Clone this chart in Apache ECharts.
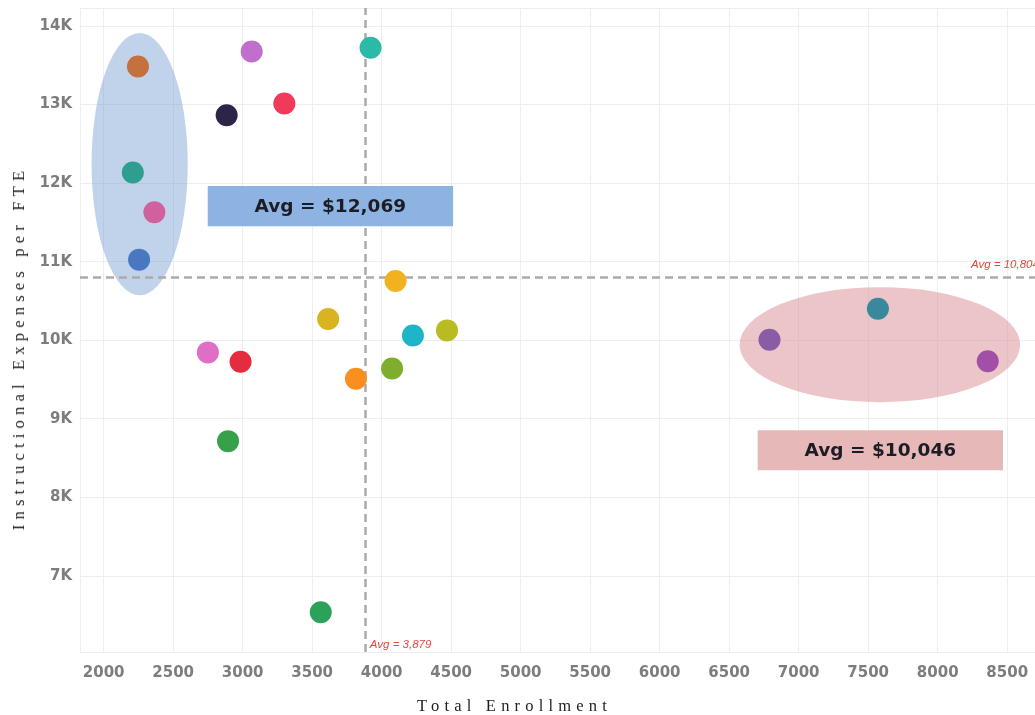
<!DOCTYPE html>
<html>
<head>
<meta charset="utf-8">
<script src="https://cdn.jsdelivr.net/npm/echarts@6/dist/echarts.min.js"></script>
<style>
  html, body { margin: 0; padding: 0; background: #fff; }
  #wrap { position: relative; width: 1035px; height: 715px; overflow: hidden; }
  #chart { position: absolute; left: 0; top: 0; width: 1035px; height: 715px; }
  .axis-title {
    position: absolute; white-space: nowrap; color: #1e1e1e;
    font-family: 'Liberation Serif', 'DejaVu Serif', serif; font-size: 16.5px; letter-spacing: 5.2px;
  }
  #xTitle { left: 0; width: 1029px; top: 696px; text-align: center; }
  #yTitle { left: 19px; top: 348px; transform: translate(-50%, -50%) rotate(-90deg); }
</style>
</head>
<body>
<div id="wrap">
  <div id="chart"></div>
  <div class="axis-title" id="xTitle">Total Enrollment</div>
  <div class="axis-title" id="yTitle">Instructional Expenses per FTE</div>
</div>
<script>
// One point per institution: total enrollment vs instructional expenses per FTE
const enrollment = [2247, 2210, 2365, 2255, 3065, 3920, 3300, 2885, 4100, 3615, 4225,
                    4470, 2750, 2985, 3815, 4075, 2895, 3562, 6790, 7570, 8360];
const expense    = [13485, 12135, 11630, 11026, 13675, 13725, 13015, 12865, 10755, 10270, 10060,
                    10125, 9845, 9725, 9510, 9640, 8715, 6535, 10005, 10400, 9733];
const pointColors = ['#C4703F', '#2E9E8E', '#D0609E', '#4A78C0', '#C070CC', '#2BBAA8', '#F03A5A',
                     '#2E2448', '#F2B11E', '#D9B420', '#20B4C8', '#B8BC22', '#DF6FC6', '#E52B3E',
                     '#F7901E', '#7EAE2E', '#37A04A', '#2BA25A', '#8A5CA6', '#3A889E', '#A24FA8'];

// Highlighted clusters (indices into the arrays above)
const smallHighSpend = [0, 1, 2, 3];
const largeSchools = [18, 19, 20];

// Axis extents
const xMin = 1830, xMax = 8700;
const yMin = 6030, yMax = 14230;

const mean = arr => arr.reduce((a, b) => a + b, 0) / arr.length;
const fmt = v => Math.round(v).toLocaleString('en-US');

const avgEnrollment = mean(enrollment);
const avgExpense = mean(expense);

// Shaded ellipses around the clusters and their average boxes (data units)
const highlightRegions = [
  { cx: 2259, cy: 12242, rx: 346, ry: 1669, fill: 'rgba(100,145,205,0.40)' },
  { cx: 7584, cy: 9943, rx: 1009, ry: 732, fill: 'rgba(215,140,145,0.50)' }
];
const avgBoxes = [
  { x0: 2749, x1: 4514, y0: 11452, y1: 11962, fill: '#8DB3E2',
    text: 'Avg = $' + fmt(mean(smallHighSpend.map(i => expense[i]))) },
  { x0: 6705, x1: 8470, y0: 8344, y1: 8854, fill: '#E6B8B7',
    text: 'Avg = $' + fmt(mean(largeSchools.map(i => expense[i]))) }
];

const chart = echarts.init(document.getElementById('chart'), null, { renderer: 'canvas' });

const labelColor = '#7d7d7d';
const tickFont = { color: labelColor, fontFamily: 'DejaVu Sans', fontWeight: 'bold', fontSize: 15 };

chart.setOption({
  backgroundColor: '#ffffff',
  animation: false,
  grid: { left: 80, right: 0, top: 8, bottom: 63, containLabel: false },
  xAxis: {
    type: 'value', min: xMin, max: xMax, splitNumber: 14,
    axisLine: { show: true, lineStyle: { color: '#eeeeee' } },
    axisTick: { show: false },
    splitLine: { lineStyle: { color: '#eeeeee', width: 1 } },
    axisLabel: Object.assign({
      margin: 14, showMinLabel: false, showMaxLabel: false,
      formatter: v => (v % 500 === 0 ? String(v) : '')
    }, tickFont)
  },
  yAxis: {
    type: 'value', min: yMin, max: yMax, splitNumber: 8,
    axisLine: { show: true, lineStyle: { color: '#eeeeee' } },
    axisTick: { show: false },
    splitLine: { lineStyle: { color: '#eeeeee', width: 1 } },
    axisLabel: Object.assign({
      margin: 8, showMinLabel: false, showMaxLabel: false,
      formatter: v => (v % 1000 === 0 ? (v / 1000) + 'K' : '')
    }, tickFont)
  },
  series: [
    {
      name: 'clusters', type: 'custom', z: 0, silent: true,
      data: highlightRegions.map(r => [r.cx, r.cy]),
      renderItem: (params, api) => {
        const r = highlightRegions[params.dataIndex];
        const c = api.coord([r.cx, r.cy]);
        const s = api.size([r.rx, r.ry]);
        return {
          type: 'circle', x: c[0], y: c[1], scaleX: s[0] / s[1],
          shape: { cx: 0, cy: 0, r: s[1] },
          style: { fill: r.fill }
        };
      }
    },
    {
      name: 'averages', type: 'scatter', z: 1, silent: true, data: [],
      markLine: {
        z: 1, silent: true, symbol: 'none',
        lineStyle: { type: [8, 5], color: '#ababab', width: 2.5 },
        label: { show: false },
        data: [{ xAxis: avgEnrollment }, { yAxis: avgExpense }]
      }
    },
    {
      name: 'avgBoxes', type: 'custom', z: 3, silent: true,
      data: avgBoxes.map(b => [(b.x0 + b.x1) / 2, (b.y0 + b.y1) / 2]),
      renderItem: (params, api) => {
        const b = avgBoxes[params.dataIndex];
        const p0 = api.coord([b.x0, b.y1]);
        const p1 = api.coord([b.x1, b.y0]);
        return {
          type: 'group',
          children: [
            { type: 'rect', shape: { x: p0[0], y: p0[1], width: p1[0] - p0[0], height: p1[1] - p0[1] },
              style: { fill: b.fill } },
            { type: 'text', x: (p0[0] + p1[0]) / 2, y: (p0[1] + p1[1]) / 2 + 1,
              style: { text: b.text, fill: '#1c1c24', fontFamily: 'DejaVu Sans', fontWeight: 'bold',
                       fontSize: 18.5, align: 'center', verticalAlign: 'middle' } }
          ]
        };
      }
    },
    {
      name: 'avgLabels', type: 'custom', z: 3, silent: true,
      data: [[avgEnrollment, yMin], [xMax, avgExpense]],
      renderItem: (params, api) => {
        const isX = params.dataIndex === 0;
        const p = api.coord([api.value(0), api.value(1)]);
        return {
          type: 'text',
          x: isX ? p[0] + 5 : p[0] - 64,
          y: isX ? p[1] - 7 : p[1] - 12,
          style: {
            text: 'Avg = ' + fmt(isX ? avgEnrollment : avgExpense),
            fill: '#E8453F', fontFamily: 'Liberation Sans', fontStyle: 'italic', fontSize: 11.5,
            align: 'left', verticalAlign: 'middle'
          }
        };
      }
    },
    {
      name: 'institutions', type: 'scatter', z: 4,
      symbolSize: 22,
      data: enrollment.map((x, i) => ({
        value: [x, expense[i]],
        itemStyle: { color: pointColors[i], opacity: 1 }
      }))
    }
  ]
});
</script>
</body>
</html>
